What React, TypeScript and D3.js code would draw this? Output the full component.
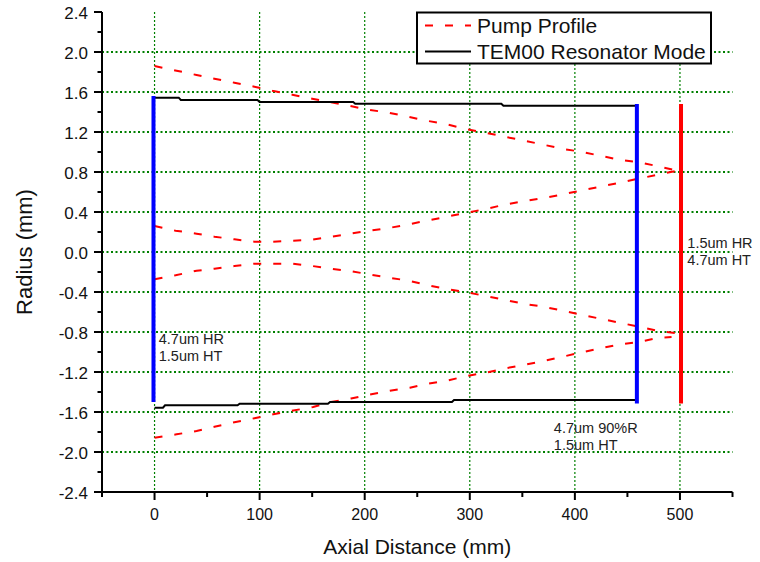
import React from "react";
import * as d3 from "d3";

// ---- data ----
const xTicks = [0, 100, 200, 300, 400, 500];
const xMinorTicks = [-50, 50, 150, 250, 350, 450, 550];
const yTicks = [-2.4, -2.0, -1.6, -1.2, -0.8, -0.4, 0.0, 0.4, 0.8, 1.2, 1.6, 2.0, 2.4];
const yMinorTicks = [-2.2, -1.8, -1.4, -1.0, -0.6, -0.2, 0.2, 0.6, 1.0, 1.4, 1.8, 2.2];
const yGrid = [-2.0, -1.6, -1.2, -0.8, -0.4, 0.0, 0.4, 0.8, 1.2, 1.6, 2.0];

const pumpUpperOuter: [number, number][] = [
  [0, 1.86], [21, 1.813], [40, 1.77], [57, 1.733], [76, 1.693], [95, 1.653], [112, 1.613],
  [131, 1.573], [150, 1.533], [168, 1.497], [186, 1.46], [205, 1.42], [222, 1.395], [241, 1.353],
  [259, 1.313], [278, 1.277], [297, 1.227], [315, 1.193], [333, 1.153], [352, 1.113], [370, 1.073],
  [389, 1.03], [406, 1.003], [425, 0.96], [444, 0.92], [463, 0.893], [481, 0.853], [497, 0.815],
];
const pumpUpperInner: [number, number][] = [
  [0, 0.26], [20, 0.213], [40, 0.183], [57, 0.153], [76, 0.127], [95, 0.103], [112, 0.103],
  [131, 0.113], [150, 0.123], [168, 0.153], [186, 0.183], [205, 0.213], [223, 0.24], [242, 0.277],
  [259, 0.313], [278, 0.353], [297, 0.393], [315, 0.43], [333, 0.473], [352, 0.51], [370, 0.54],
  [389, 0.577], [405, 0.613], [424, 0.653], [443, 0.693], [462, 0.737], [478, 0.77], [497, 0.813],
];
const pumpLowerInner: [number, number][] = [
  [0, -0.273], [20, -0.233], [40, -0.187], [57, -0.167], [76, -0.14], [95, -0.117], [112, -0.117],
  [131, -0.117], [150, -0.14], [168, -0.167], [186, -0.19], [205, -0.225], [223, -0.257], [242, -0.287],
  [259, -0.33], [278, -0.37], [297, -0.403], [315, -0.44], [334, -0.48], [352, -0.52], [370, -0.547],
  [389, -0.587], [406, -0.627], [424, -0.667], [444, -0.71], [462, -0.75], [480, -0.79], [497, -0.813],
];
const pumpLowerOuter: [number, number][] = [
  [0, -1.857], [21, -1.823], [40, -1.79], [57, -1.747], [76, -1.703], [95, -1.663], [113, -1.623],
  [132, -1.585], [151, -1.55], [168, -1.5], [187, -1.465], [205, -1.425], [224, -1.387], [243, -1.357],
  [259, -1.32], [278, -1.287], [297, -1.24], [315, -1.207], [334, -1.163], [351, -1.13], [370, -1.09],
  [386, -1.053], [405, -1.007], [424, -0.963], [444, -0.923], [462, -0.897], [480, -0.857], [492, -0.85],
];
const pumpCurves = [pumpUpperOuter, pumpUpperInner, pumpLowerInner, pumpLowerOuter];

const modeUpper: [number, number][] = [
  [0, 1.543], [23, 1.543], [25, 1.52], [98, 1.52], [100, 1.5], [189, 1.5], [191, 1.483],
  [330, 1.483], [332, 1.463], [459, 1.463],
];
const modeLower: [number, number][] = [
  [0, -1.557], [8, -1.557], [10, -1.533], [79, -1.533], [81, -1.517], [165, -1.517], [167, -1.5],
  [283, -1.5], [285, -1.48], [459, -1.48],
];
const modeCurves = [modeUpper, modeLower];

const mirrorX = [-1, 459, 501];
const mirrorTop = [1.56, 1.48, 1.48];
const mirrorBottom = [-1.5, -1.515, -1.515];
const mirrorColor = ["#0000ff", "#0000ff", "#ff0000"];

const noteLines = [
  ["4.7um HR", "1.5um HT"],
  ["4.7um 90%R", "1.5um HT"],
  ["1.5um HR", "4.7um HT"],
];
const noteX = [4, 380, 507];
const noteY = [-0.92, -1.81, 0.04];

const legendLabels = ["Pump Profile", "TEM00 Resonator Mode"];

const FONT = "'Liberation Sans', Arial, sans-serif";
const GREEN = "#008000";

export default function App() {
  const W = 760;
  const H = 562;
  const x = d3.scaleLinear().domain([-50, 550]).range([102, 732.5]);
  const y = d3.scaleLinear().domain([-2.4, 2.4]).range([492, 12]);
  const line = d3
    .line<[number, number]>()
    .x((d) => x(d[0]))
    .y((d) => y(d[1]));

  const x0 = x(-50);
  const x1 = x(550);
  const yTop = y(2.4);
  const yBot = y(-2.4);
  const fmtY = (v: number) => (Math.abs(v) < 1e-9 ? "0.0" : v.toFixed(1));

  return (
    <svg
      width={W}
      height={H}
      style={{ position: "absolute", left: 0, top: 0, background: "#fff" }}
      fontFamily={FONT}
    >
      <rect x={0} y={0} width={W} height={H} fill="#fff" />
      {/* grid */}
      {yGrid.map((v) => (
        <line key={"hg" + v} x1={x0} x2={x1} y1={y(v)} y2={y(v)} stroke={GREEN} strokeWidth={2} strokeDasharray="2,2.5" />
      ))}
      {xTicks.map((v) => (
        <line key={"vg" + v} x1={x(v)} x2={x(v)} y1={yTop} y2={yBot} stroke={GREEN} strokeWidth={1.2} strokeDasharray="2,2" />
      ))}

      {/* pump profile */}
      {pumpCurves.map((c, i) => (
        <path key={"p" + i} d={line(c) || ""} fill="none" stroke="#ff0000" strokeWidth={2} strokeDasharray="8,12" />
      ))}
      {/* resonator mode */}
      {modeCurves.map((c, i) => (
        <path key={"m" + i} d={line(c) || ""} fill="none" stroke="#000" strokeWidth={2} />
      ))}
      {/* mirrors */}
      {mirrorX.map((m, i) => (
        <line key={"mir" + i} x1={x(m)} x2={x(m)} y1={y(mirrorTop[i])} y2={y(mirrorBottom[i])} stroke={mirrorColor[i]} strokeWidth={4} />
      ))}

      {/* notes */}
      {noteLines.map((ls, i) => (
        <text key={"n" + i} x={x(noteX[i])} y={y(noteY[i])} fontSize={14.5} fill="#222">
          {ls.map((t, j) => (
            <tspan key={j} x={x(noteX[i])} dy={j === 0 ? 0 : 17}>
              {t}
            </tspan>
          ))}
        </text>
      ))}

      {/* axes */}
      <line x1={x0} x2={x0} y1={yTop} y2={yBot + 1} stroke="#000" strokeWidth={2} />
      <line x1={x0 - 1} x2={x1} y1={yBot} y2={yBot} stroke="#000" strokeWidth={2} />
      {yTicks.map((v) => (
        <g key={"yt" + v}>
          <line x1={x0 - 8} x2={x0} y1={y(v)} y2={y(v)} stroke="#000" strokeWidth={2} />
          <text x={88} y={y(v) + 6.5} textAnchor="end" fontSize={17} fill="#111">
            {fmtY(v)}
          </text>
        </g>
      ))}
      {yMinorTicks.map((v) => (
        <line key={"ym" + v} x1={x0 - 4.5} x2={x0} y1={y(v)} y2={y(v)} stroke="#000" strokeWidth={2} />
      ))}
      {xTicks.map((v) => (
        <g key={"xt" + v}>
          <line x1={x(v)} x2={x(v)} y1={yBot} y2={yBot + 8} stroke="#000" strokeWidth={2} />
          <text x={x(v)} y={520} textAnchor="middle" fontSize={16} fill="#111">
            {v}
          </text>
        </g>
      ))}
      {xMinorTicks.map((v) => (
        <line key={"xm" + v} x1={x(v)} x2={x(v)} y1={yBot} y2={yBot + 5} stroke="#000" strokeWidth={2} />
      ))}

      {/* axis titles */}
      <text x={(x0 + x1) / 2} y={554} textAnchor="middle" fontSize={21} fill="#111">
        Axial Distance (mm)
      </text>
      <text transform={`translate(32,${(yTop + yBot) / 2}) rotate(-90)`} textAnchor="middle" fontSize={22} fill="#111">
        Radius (mm)
      </text>

      {/* legend */}
      <rect x={417} y={12.5} width={294} height={51} fill="#fff" stroke="#000" strokeWidth={2} />
      <line x1={425} x2={471} y1={25.5} y2={25.5} stroke="#ff0000" strokeWidth={2} strokeDasharray="8,12" />
      <line x1={425} x2={471} y1={51.5} y2={51.5} stroke="#000" strokeWidth={2} />
      {legendLabels.map((t, i) => (
        <text key={"lg" + i} x={477} y={33 + i * 25.5} fontSize={21} fill="#111">
          {t}
        </text>
      ))}
    </svg>
  );
}
